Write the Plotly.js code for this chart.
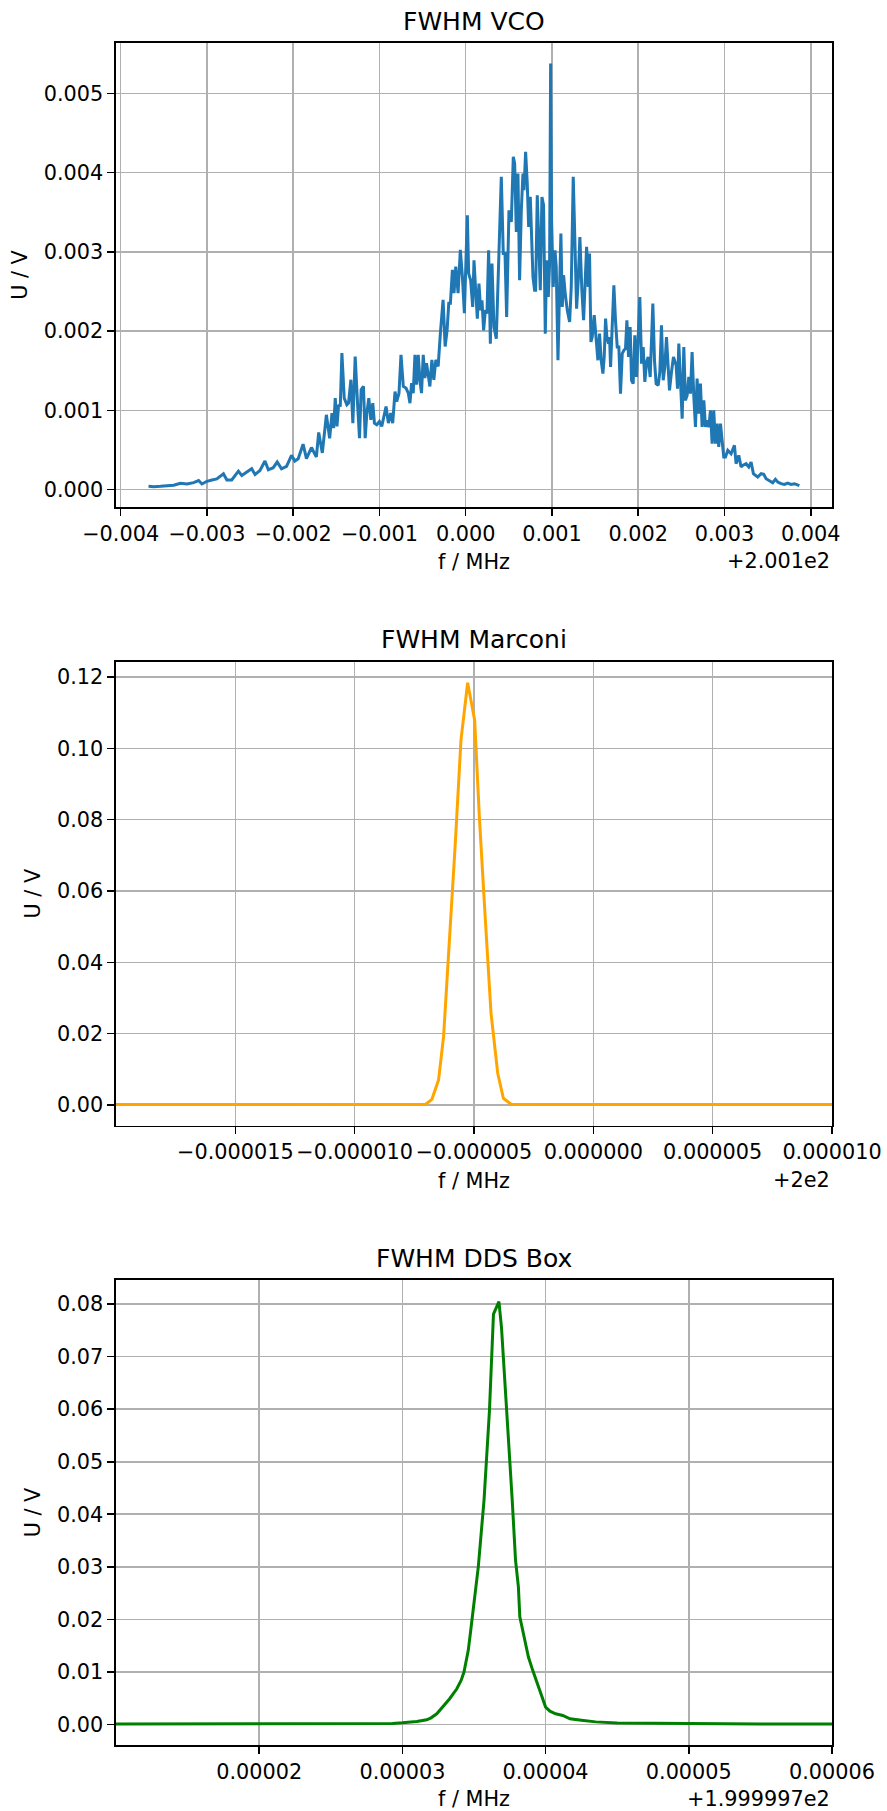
<!DOCTYPE html>
<html>
<head>
<meta charset="utf-8">
<script src="https://cdn.plot.ly/plotly-3.0.1.min.js"></script>
<style>html,body{margin:0;padding:0;background:#fff;}</style>
</head>
<body>
<div id="chart" style="width:887px;height:1811px;"></div>
<script>
// ---------- FWHM VCO (offset from 200.1 MHz) ----------
const vcoOffsetLabel = '+2.001e2';
const vcoFreqOffset = [
 -0.003677,-0.003615,-0.003538,-0.003462,-0.003385,-0.003308,-0.003231,-0.003154,-0.003096,-0.003058,
 -0.003000,-0.002942,-0.002885,-0.002808,-0.002769,-0.002712,-0.002635,-0.002596,-0.002538,-0.002481,
 -0.002442,-0.002385,-0.002327,-0.002288,-0.002231,-0.002185,-0.002135,-0.002077,-0.002019,-0.001981,
 -0.001942,-0.001885,-0.001846,-0.001788,-0.001731,-0.001704,-0.001662,-0.001615,-0.001577,
 -0.001550,-0.001531,-0.001512,-0.001492,-0.001473,-0.001454,-0.001435,-0.001408,-0.001377,-0.001358,
 -0.001331,-0.001308,-0.001281,-0.001254,-0.001231,-0.001212,-0.001185,-0.001165,-0.001146,-0.001123,
 -0.001100,-0.001077,-0.001058,-0.001031,-0.001000,-0.000973,-0.000946,-0.000923,-0.000896,-0.000869,
 -0.000846,-0.000819,-0.000800,-0.000773,-0.000750,-0.000723,-0.000692,-0.000665,-0.000646,-0.000627,
 -0.000608,-0.000588,-0.000569,-0.000550,-0.000531,-0.000512,-0.000492,-0.000473,-0.000454,-0.000435,
 -0.000415,-0.000392,-0.000369,-0.000346,-0.000319,-0.000292,-0.000262,-0.000238,-0.000215,-0.000196,
 -0.000177,-0.000154,-0.000135,-0.000115,-0.000088,-0.000062,-0.000038,-0.000015,
 0.0000193,0.0000347,0.0000579,0.0000811,0.0000965,0.000116,0.000135,0.000154,0.000174,0.000189,
 0.000208,0.000228,0.000247,0.000266,0.000286,0.000305,0.000328,0.000355,0.000382,0.000413,
 0.000436,0.000456,0.000475,0.000502,0.000529,0.000552,0.000568,0.000587,0.000606,0.000625,
 0.000645,0.000664,0.000676,0.000695,0.000714,0.000730,0.000749,0.000761,0.000780,0.000799,
 0.000811,0.000830,0.000846,0.000865,0.000884,0.000903,0.000923,0.000938,0.000958,0.000973,
 0.000985,0.000996,0.001015,0.001035,0.001050,0.001070,0.001089,0.001104,0.001120,0.001135,
 0.001154,0.001178,0.001205,0.001224,0.001247,0.001266,0.001286,0.001305,0.001324,0.001347,
 0.001367,0.001386,0.001402,0.001421,0.001436,0.001452,0.001467,0.001490,0.001514,0.001533,
 0.001552,0.001571,0.001591,0.001606,0.001622,0.001637,0.001656,0.001668,0.001680,0.001699,
 0.001718,0.001737,0.001757,0.001776,0.001795,0.001815,0.001834,0.001853,0.001869,0.001888,
 0.001907,0.001923,0.001942,0.001961,0.001981,0.002000,0.002019,0.002039,0.002058,0.002077,
 0.002097,0.002116,0.002139,0.002170,0.002189,0.002208,0.002232,0.002251,0.002270,0.002290,
 0.002309,0.002328,0.002347,0.002363,0.002386,0.002409,0.002440,0.002456,0.002471,0.002490,
 0.002510,0.002529,0.002548,0.002568,0.002587,0.002606,0.002625,0.002645,0.002664,0.002683,
 0.002703,0.002722,0.002741,0.002761,0.002780,0.002799,0.002819,0.002838,0.002857,0.002876,
 0.002896,0.002915,0.002934,0.002954,0.002973,0.002992,0.003012,0.003039,0.003077,0.003116,
 0.003135,0.003166,0.003193,0.003212,0.003251,0.003282,0.003309,0.003336,0.003359,0.003386,
 0.003425,0.003456,0.003483,0.003521,0.003560,0.003591,0.003618,0.003656,0.003695,0.003734,
 0.003772,0.003811,0.003850,0.003869
];
const vcoVoltage = [
 0.0000426,0.0000383,0.0000426,0.000051,0.0000553,0.0000809,0.0000723,0.0000894,0.000115,0.0000723,
 0.000106,0.000123,0.000136,0.000200,0.000123,0.000123,0.000234,0.000179,0.000221,0.000264,
 0.000191,0.000243,0.000362,0.000251,0.000277,0.000349,0.000264,0.000294,0.000434,0.000362,
 0.000391,0.000574,0.000391,0.000532,0.000413,0.000723,0.000464,0.000945,0.000647,
 0.000966,0.000777,0.001155,0.000798,0.001071,0.001050,0.001723,0.001155,0.001071,0.001092,
 0.001387,0.000840,0.001681,0.001092,0.000651,0.001260,0.001303,0.000651,0.000966,0.001155,
 0.000882,0.001092,0.000840,0.000819,0.000861,0.000798,0.000924,0.001050,0.000840,0.000966,
 0.000840,0.001239,0.001113,0.001218,0.001702,0.001303,0.001282,0.001218,0.001092,0.001345,
 0.001218,0.001702,0.001324,0.001702,0.001387,0.001218,0.001702,0.001408,0.001597,0.001429,
 0.001303,0.001639,0.001387,0.001639,0.001555,0.001996,0.002395,0.001807,0.002017,0.002353,
 0.002353,0.002773,0.002479,0.002815,0.002479,0.003025,0.002689,0.002227,
 0.003463,0.002727,0.002642,0.002306,0.002895,0.002516,0.002159,0.002600,0.002264,0.002390,
 0.002011,0.002264,0.002222,0.003021,0.001843,0.002853,0.002053,0.001906,0.002937,0.003947,
 0.002979,0.002979,0.002180,0.003526,0.003379,0.004199,0.004115,0.003252,0.003989,0.002642,
 0.003526,0.003989,0.003778,0.004262,0.003862,0.003316,0.003694,0.003210,0.002684,0.002516,
 0.002516,0.003715,0.003105,0.002516,0.003694,0.003589,0.001969,0.002895,0.002432,0.002853,
 0.005377,0.003400,0.002558,0.003021,0.002811,0.001633,0.002558,0.003231,0.002306,0.002706,
 0.002474,0.002264,0.002117,0.002558,0.003947,0.003063,0.002285,0.002642,0.003189,0.002516,
 0.002138,0.002642,0.003063,0.002558,0.002979,0.001864,0.001927,0.002201,0.001885,0.001633,
 0.001969,0.001632,0.001464,0.001674,0.002158,0.001927,0.001843,0.001927,0.001548,0.002053,
 0.002579,0.002137,0.001801,0.001801,0.001212,0.001716,0.001759,0.001780,0.002137,0.001674,
 0.002053,0.001380,0.001338,0.001948,0.001422,0.001927,0.002432,0.001590,0.001801,0.001359,
 0.001611,0.001674,0.001422,0.002348,0.001632,0.001338,0.001317,0.001485,0.002074,0.001380,
 0.001548,0.001927,0.001548,0.001254,0.001485,0.001674,0.001569,0.001275,0.001843,0.001254,
 0.000896,0.001801,0.001127,0.001191,0.001422,0.001212,0.001737,0.001170,0.000791,0.001401,
 0.000959,0.001338,0.000791,0.001127,0.000791,0.000875,0.000791,0.001001,0.000581,0.001001,
 0.000581,0.000833,0.000539,0.000833,0.000623,0.000412,0.000412,0.000496,0.000454,0.000560,
 0.000328,0.000433,0.000286,0.000307,0.000328,0.000286,0.000349,0.000202,0.000181,0.000160,
 0.000202,0.000194,0.000139,0.000118,0.0000883,0.000130,0.0000968,0.0000757,0.0000673,0.0000841,
 0.0000673,0.0000757,0.0000547,0.0000505
];
const vcoXTicks = [-0.004,-0.003,-0.002,-0.001,0,0.001,0.002,0.003,0.004];
const vcoXTickLabels = ['\u22120.004','\u22120.003','\u22120.002','\u22120.001','0.000','0.001','0.002','0.003','0.004'];
const vcoYTicks = [0,0.001,0.002,0.003,0.004,0.005];
const vcoYTickLabels = ['0.000','0.001','0.002','0.003','0.004','0.005'];

// ---------- FWHM Marconi (offset from 200 MHz) ----------
const marconiOffsetLabel = '+2e2';
const marconiFreqOffset = [
 -0.000020,-0.000018,-0.000016,-0.000014,-0.000012,-0.000010,-0.000009,-0.000008,-0.0000075,
 -0.000007017,-0.000006765,-0.000006485,-0.000006275,-0.000006036,-0.000005784,-0.000005546,
 -0.000005266,-0.000004972,-0.000004776,-0.000004524,-0.000004286,-0.000004006,-0.000003768,
 -0.000003445,-0.000003,-0.000002,0,0.000002,0.000004,0.000006,0.000008,0.000010
];
const marconiVoltage = [
 0.0001,0.0001,0.0001,0.0001,0.0001,0.0001,0.0001,0.0001,0.0001,
 0.00019,0.00159,0.00701,0.01916,0.0444,0.07336,0.1023,
 0.1184,0.1079,0.0808,0.0519,0.0257,0.00888,0.00187,
 0.00019,0.0001,0.0001,0.0001,0.0001,0.0001,0.0001,0.0001,0.0001
];
const marconiXTicks = [-0.000015,-0.000010,-0.000005,0,0.000005,0.000010];
const marconiXTickLabels = ['\u22120.000015','\u22120.000010','\u22120.000005','0.000000','0.000005','0.000010'];
const marconiYTicks = [0,0.02,0.04,0.06,0.08,0.10,0.12];
const marconiYTickLabels = ['0.00','0.02','0.04','0.06','0.08','0.10','0.12'];

// ---------- FWHM DDS Box (offset from 199.9997 MHz) ----------
const ddsOffsetLabel = '+1.999997e2';
const ddsFreqOffset = [
 0.00001,0.000013,0.000016,0.0000193,0.0000216,0.000024,0.0000263,0.0000286,0.0000293,0.00003,
 0.000031,0.0000317,0.000032,0.0000324,0.0000328,0.0000333,0.0000338,0.0000341,0.0000343,0.0000346,
 0.0000348,0.000035,0.0000353,0.0000357,0.00003608,0.00003636,0.0000366,0.00003674,0.00003692,0.0000373,
 0.00003767,0.0000379,0.0000381,0.0000382,0.0000385,0.0000388,0.0000391,0.0000394,0.0000397,0.00004,
 0.0000403,0.0000407,0.0000412,0.0000417,0.0000425,0.0000435,0.000045,0.00005,0.000055,0.00006
];
const ddsVoltage = [
 0.0001,0.0001,0.0001,0.0001,0.0001,0.0001,0.0001,0.00013,0.00019,0.00032,
 0.00057,0.00089,0.00127,0.00203,0.00331,0.0049,0.0068,0.00839,0.00998,0.01411,
 0.01856,0.0236,0.0300,0.04266,0.05975,0.0781,0.0797,0.08044,0.07557,0.05975,
 0.04266,0.03128,0.02619,0.02047,0.01634,0.01284,0.0103,0.00807,0.00585,0.00331,
 0.00254,0.00203,0.00172,0.00108,0.0008,0.0005,0.0003,0.00015,0.0001,0.0001
];
const ddsXTicks = [0.00002,0.00003,0.00004,0.00005,0.00006];
const ddsXTickLabels = ['0.00002','0.00003','0.00004','0.00005','0.00006'];
const ddsYTicks = [0,0.01,0.02,0.03,0.04,0.05,0.06,0.07,0.08];
const ddsYTickLabels = ['0.00','0.01','0.02','0.03','0.04','0.05','0.06','0.07','0.08'];

const titles = ['FWHM VCO','FWHM Marconi','FWHM DDS Box'];
const xLabel = 'f / MHz';
const yLabel = 'U / V';

// ---------- styling ----------
const FONT = 'DejaVu Sans, Arial, sans-serif';
const TICKSIZE = 20.8;
const axisBase = {
  showline: true, linecolor: '#000', linewidth: 1.6, mirror: true,
  showgrid: true, gridcolor: '#b0b0b0', gridwidth: 1.6,
  zeroline: false, ticks: 'outside', ticklen: 7, tickwidth: 1.6, tickcolor: '#000',
  tickmode: 'array', tickfont: {family: FONT, size: TICKSIZE, color: '#000'},
  automargin: false, fixedrange: true
};
function xax(domainAnchor, ticks, labels, range) {
  return Object.assign({}, axisBase, {anchor: domainAnchor, range: range, tickvals: ticks, ticktext: labels,
    title: {text: xLabel, font: {family: FONT, size: TICKSIZE, color: '#000'}, standoff: 10}});
}
function yax(domainAnchor, domain, ticks, labels, range) {
  return Object.assign({}, axisBase, {anchor: domainAnchor, domain: domain, range: range, tickvals: ticks, ticktext: labels,
    title: {text: yLabel, font: {family: FONT, size: TICKSIZE, color: '#000'}, standoff: 10}});
}

const traces = [
  {x: vcoFreqOffset, y: vcoVoltage, xaxis: 'x', yaxis: 'y', type: 'scatter', mode: 'lines',
   line: {color: '#1f77b4', width: 3}, hoverinfo: 'skip'},
  {x: marconiFreqOffset, y: marconiVoltage, xaxis: 'x2', yaxis: 'y2', type: 'scatter', mode: 'lines',
   line: {color: '#ffa500', width: 3}, hoverinfo: 'skip'},
  {x: ddsFreqOffset, y: ddsVoltage, xaxis: 'x3', yaxis: 'y3', type: 'scatter', mode: 'lines',
   line: {color: '#008000', width: 3}, hoverinfo: 'skip'}
];

function titleAnn(i, text) {
  const s = i === 0 ? '' : String(i + 1);
  return {text: text, xref: 'x' + s + ' domain', yref: 'y' + s + ' domain', x: 0.5, y: 1,
    xanchor: 'center', yanchor: 'middle', yshift: 22, showarrow: false,
    font: {family: FONT, size: 25, color: '#000'}};
}
function offsetAnn(i, text) {
  const s = i === 0 ? '' : String(i + 1);
  return {text: text, xref: 'x' + s + ' domain', yref: 'y' + s + ' domain', x: 1, y: 0,
    xanchor: 'right', yanchor: 'middle', yshift: -54, showarrow: false,
    font: {family: FONT, size: TICKSIZE, color: '#000'}};
}

const layout = {
  width: 887, height: 1811,
  margin: {l: 116, r: 55, t: 43, b: 66, pad: 0},
  paper_bgcolor: '#fff', plot_bgcolor: '#fff',
  font: {family: FONT, size: TICKSIZE, color: '#000'},
  showlegend: false,
  xaxis:  xax('y',  vcoXTicks, vcoXTickLabels, [-0.004054, 0.004247]),
  yaxis:  yax('x',  [0.7274, 1], vcoYTicks, vcoYTickLabels, [-0.000218, 0.005636]),
  xaxis2: xax('y2', marconiXTicks, marconiXTickLabels, [-0.0000200, 0.0000100]),
  yaxis2: yax('x2', [0.3639, 0.6365], marconiYTicks, marconiYTickLabels, [-0.0058, 0.1243]),
  xaxis3: xax('y3', ddsXTicks, ddsXTickLabels, [0.00001, 0.00006]),
  yaxis3: yax('x3', [0, 0.2732], ddsYTicks, ddsYTickLabels, [-0.0039, 0.08457]),
  annotations: [
    titleAnn(0, titles[0]), titleAnn(1, titles[1]), titleAnn(2, titles[2]),
    offsetAnn(0, vcoOffsetLabel), offsetAnn(1, marconiOffsetLabel), offsetAnn(2, ddsOffsetLabel)
  ]
};

Plotly.newPlot('chart', traces, layout, {staticPlot: true, displayModeBar: false});
</script>
</body>
</html>
